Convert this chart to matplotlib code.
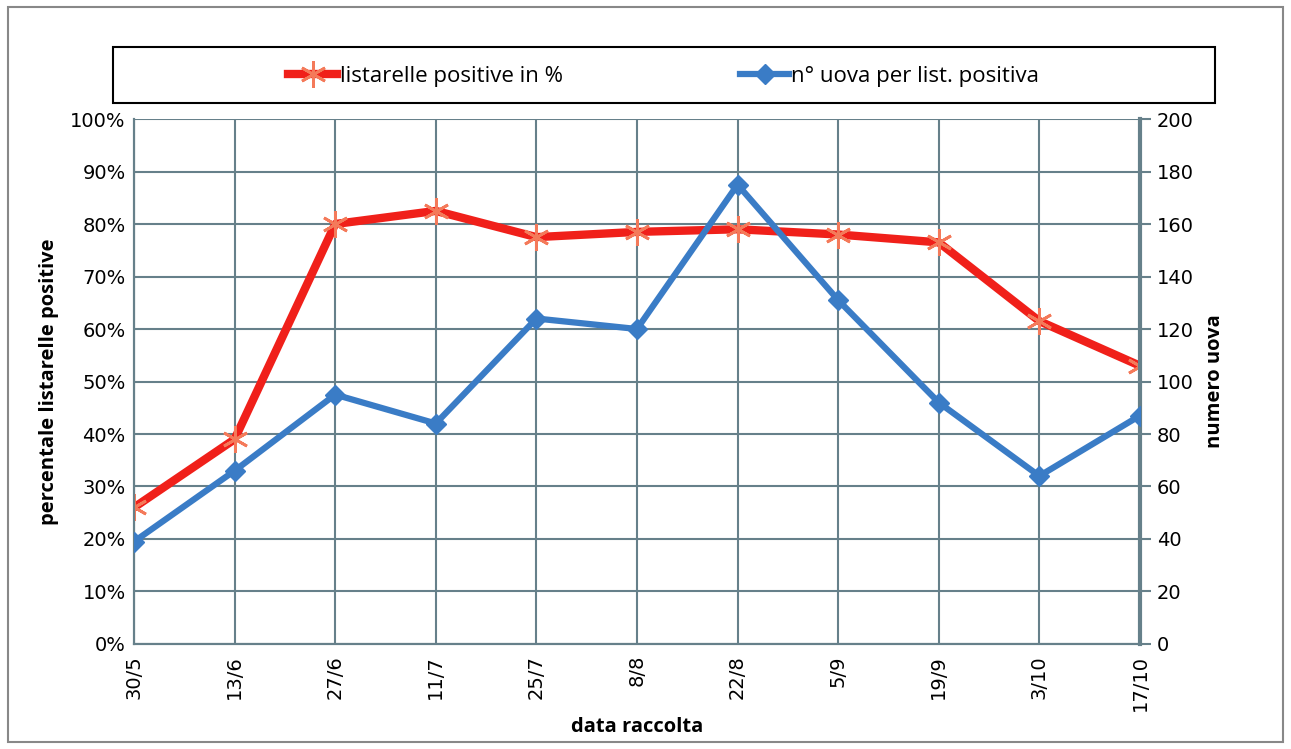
import matplotlib.pyplot as plt
from matplotlib.patches import Rectangle
import numpy as np

# data
dates = ['30/5', '13/6', '27/6', '11/7', '25/7', '8/8', '22/8', '5/9', '19/9', '3/10', '17/10']
perc_positive = [26, 39, 80, 82.5, 77.5, 78.5, 79, 78, 76.5, 61.5, 53]
eggs_per_list = [39, 66, 95, 84, 124, 120, 175, 131, 92, 64, 87]

left_ticks = list(range(0, 101, 10))
right_ticks = list(range(0, 201, 20))

red = '#F0201A'
red_marker = '#F47A5A'
blue = '#3A7CC6'
grid_col = '#66808A'

plt.rcParams['font.family'] = ['Open Sans', 'DejaVu Sans']

fig = plt.figure(figsize=(12.91, 7.49), dpi=100)
ax = fig.add_axes([0.1038, 0.1402, 0.7792, 0.7009])
ax2 = ax.twinx()

x = np.arange(len(dates))

# star marker = x with a vertical stroke
l1, = ax.plot(x, perc_positive, color=red, lw=6, marker=(6, 2, 0), ms=19, mew=2,
              mec=red_marker, label='listarelle positive in %', zorder=3)
l2, = ax2.plot(x, eggs_per_list, color=blue, lw=4.5, marker='D', ms=10,
               mfc=blue, mec=blue, label='n° uova per list. positiva', zorder=3)

ax.set_xlim(0, len(dates) - 1)
ax.set_ylim(0, 100)
ax2.set_ylim(0, 200)
ax.set_yticks(left_ticks)
ax.set_yticklabels([f'{v}%' for v in left_ticks], family='DejaVu Sans')
ax2.set_yticks(right_ticks)
ax2.set_yticklabels([str(v) for v in right_ticks], family='DejaVu Sans')
ax.set_xticks(x)
ax.set_xticklabels(dates, rotation=90, family='DejaVu Sans')

ax.grid(True, color=grid_col, lw=1.5)
ax.set_axisbelow(True)
for a in (ax, ax2):
    for s in a.spines.values():
        s.set_color(grid_col)
        s.set_linewidth(1.5)
ax.spines['top'].set_visible(False)
ax2.spines['top'].set_visible(False)
ax2.spines['right'].set_linewidth(3)

ax.tick_params(axis='y', length=0, labelsize=14, pad=6)
ax.tick_params(axis='x', length=0, labelsize=14, pad=8)
ax2.tick_params(axis='y', length=8, width=1.5, color=grid_col, labelsize=14, pad=4)

ax.set_ylabel('percentale listarelle positive', fontsize=14.5, fontweight='bold', labelpad=8)
ax2.set_ylabel('numero uova', fontsize=14.5, fontweight='bold', labelpad=8)
ax.set_xlabel('data raccolta', fontsize=14.5, fontweight='bold', labelpad=4)

# legend box drawn by hand, entries centred inside it
fig.patches.append(Rectangle((0.0875, 0.8625), 0.8536, 0.0748, transform=fig.transFigure,
                             fill=False, edgecolor='black', lw=1.5))
leg = fig.legend(handles=[l1, l2], loc='center', ncol=2,
                 bbox_to_anchor=(0.5143, 0.8985), frameon=False, fontsize=16,
                 handlelength=2.2, handletextpad=0.1, columnspacing=8)

# outer frame of the chart
fig.patches.append(Rectangle((0.006, 0.01), 0.988, 0.98, transform=fig.transFigure,
                             fill=False, edgecolor='#888888', lw=1.5))

fig.savefig('out.png', dpi=100)
